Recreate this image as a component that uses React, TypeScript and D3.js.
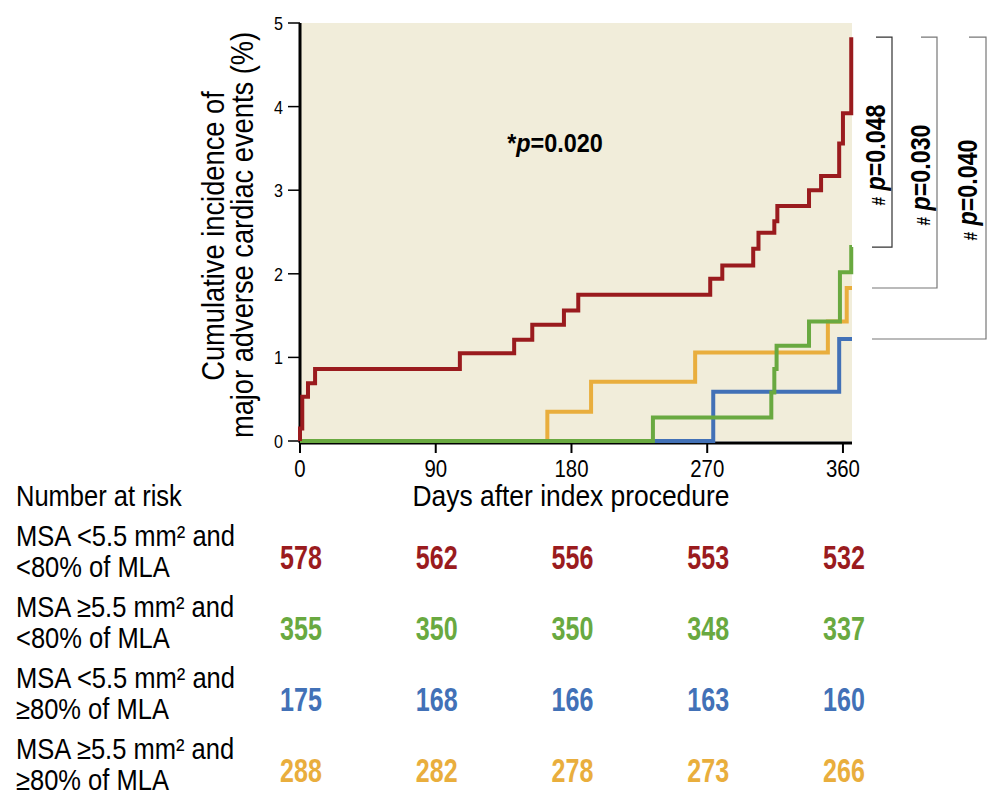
import React from 'react';
import * as d3 from 'd3';

const FONT = "'Liberation Sans', Arial, sans-serif";

// cumulative incidence (%) step curves: day of each step and value after it
const redDays = [0, 0, 1.5, 5.3, 10, 106, 142, 154, 175, 184.5, 272, 280, 300.5, 304, 314.5, 316.5, 337.5, 345.5, 357.5, 360, 365.5];
const redPct = [0, 0.15, 0.53, 0.69, 0.86, 1.05, 1.21, 1.39, 1.56, 1.75, 1.94, 2.1, 2.3, 2.49, 2.63, 2.81, 3.0, 3.17, 3.56, 3.92, 4.83];

const greenDays = [0, 234, 312.5, 314.5, 316, 337.5, 358, 365.5];
const greenPct = [0, 0.28, 0.58, 0.86, 1.14, 1.43, 2.02, 2.32];

const blueDays = [0, 274, 357.5];
const bluePct = [0, 0.59, 1.22];

const orangeDays = [0, 164, 193, 262, 350, 362.5];
const orangePct = [0, 0.35, 0.71, 1.06, 1.43, 1.83];

const xTicks = [0, 90, 180, 270, 360];
const yTicks = [0, 1, 2, 3, 4, 5];

const riskLabels = [
  ['MSA <5.5 mm² and', '<80% of MLA'],
  ['MSA ≥5.5 mm² and', '<80% of MLA'],
  ['MSA <5.5 mm² and', '≥80% of MLA'],
  ['MSA ≥5.5 mm² and', '≥80% of MLA'],
];
const riskRed = [578, 562, 556, 553, 532];
const riskGreen = [355, 350, 350, 348, 337];
const riskBlue = [175, 168, 166, 163, 160];
const riskOrange = [288, 282, 278, 273, 266];

const pOverall = '0.020';
const pPairs = ['0.048', '0.030', '0.040'];

const RED = '#9a1b1e';
const GREEN = '#69a940';
const BLUE = '#4271b7';
const ORANGE = '#e9ae3d';
const BG = '#f1edda';

const END_DAY = 366;

// condensed text: the original uses a narrow face, so squeeze a regular one
const T: React.FC<any> = ({ x, y, sx = 0.88, rot = false, children, ...rest }) => (
  <text transform={`translate(${x},${y})${rot ? ' rotate(-90)' : ''} scale(${sx},1)`} {...rest}>
    {children}
  </text>
);

const App: React.FC = () => {
  const x = d3.scaleLinear().domain([0, END_DAY]).range([300, 852]);
  const y = d3.scaleLinear().domain([0, 5]).range([441, 23]);

  const line = d3.line<[number, number]>()
    .x(d => x(d[0]))
    .y(d => y(d[1]))
    .curve(d3.curveStepAfter);

  const toPts = (days: number[], vals: number[], extend: boolean) => {
    const pts: [number, number][] = days.map((d, i) => [d, vals[i]]);
    if (extend) pts.push([END_DAY, vals[vals.length - 1]]);
    return pts;
  };

  const series = [
    { pts: toPts(orangeDays, orangePct, true), color: ORANGE },
    { pts: toPts(blueDays, bluePct, true), color: BLUE },
    { pts: toPts(greenDays, greenPct, true), color: GREEN },
    { pts: toPts(redDays, redPct, false), color: RED },
  ];

  const risk = [
    { vals: riskRed, color: RED },
    { vals: riskGreen, color: GREEN },
    { vals: riskBlue, color: BLUE },
    { vals: riskOrange, color: ORANGE },
  ];

  // bracket layout: red end vs. green, orange, blue end
  const topY = y(redPct[redPct.length - 1]);
  const bracketEnds = [greenPct, orangePct, bluePct].map(a => y(a[a.length - 1]));
  const bracketX = [892, 937, 986];
  const bracketTopLeft = [876, 921, 969];
  const labelPos = [[885, 155], [930, 175], [977, 190]];

  return (
    <div style={{ position: 'fixed', left: 0, top: 0, width: 1004, height: 791, overflow: 'hidden' }}>
      <svg width={1004} height={791} style={{ display: 'block', background: '#fff' }} fontFamily={FONT}>
        <rect x={x(0)} y={y(5)} width={x(END_DAY) - x(0)} height={y(0) - y(5)} fill={BG} />

        {/* y axis */}
        <line x1={300} x2={300} y1={y(5)} y2={443} stroke="#000" strokeWidth={3} />
        {yTicks.map(t => (
          <g key={t}>
            <line x1={288} x2={300} y1={y(t)} y2={y(t)} stroke="#000" strokeWidth={1.5} />
            <T x={283} y={y(t) + 7} sx={0.85} textAnchor="end" fontSize={19}>{t}</T>
          </g>
        ))}

        {/* x axis */}
        <line x1={299} x2={x(END_DAY)} y1={443} y2={443} stroke="#000" strokeWidth={3} />
        {xTicks.map(t => (
          <g key={t}>
            <line x1={x(t)} x2={x(t)} y1={443} y2={453} stroke="#000" strokeWidth={2} />
            <T x={x(t)} y={477} sx={0.85} textAnchor="middle" fontSize={24}>{t}</T>
          </g>
        ))}

        {series.map((s, i) => (
          <path key={i} d={line(s.pts) || ''} fill="none" stroke={s.color} strokeWidth={4} />
        ))}

        <T x={555} y={152} sx={0.9} textAnchor="middle" fontSize={26} fontWeight="bold">
          <tspan>*</tspan><tspan fontStyle="italic">p</tspan><tspan>={pOverall}</tspan>
        </T>

        {/* pairwise brackets */}
        {pPairs.map((p, i) => (
          <g key={p + i}>
            <path
              d={`M${bracketTopLeft[i]},${topY}H${bracketX[i]}V${bracketEnds[i]}H872`}
              fill="none" stroke={i === 0 ? '#333' : '#777'} strokeWidth={1.2}
            />
            <T x={labelPos[i][0]} y={labelPos[i][1]} rot sx={0.86} textAnchor="middle" fontSize={27} fontWeight="bold">
              <tspan fontSize={18}>#</tspan><tspan> </tspan><tspan fontStyle="italic">p</tspan><tspan>={p}</tspan>
            </T>
          </g>
        ))}

        {/* axis titles */}
        <T x={224} y={236} rot textAnchor="middle" fontSize={31}>Cumulative incidence of</T>
        <T x={253} y={235} rot textAnchor="middle" fontSize={31}>major adverse cardiac events (%)</T>
        <T x={571} y={506} textAnchor="middle" fontSize={30}>Days after index procedure</T>

        {/* number at risk */}
        <T x={16} y={506} fontSize={29}>Number at risk</T>
        {riskLabels.map((lab, i) => (
          <g key={i}>
            <T x={16} y={546 + i * 71} fontSize={29}>{lab[0]}</T>
            <T x={16} y={577 + i * 71} fontSize={29}>{lab[1]}</T>
            {risk[i].vals.map((v, j) => (
              <T key={j} x={x(xTicks[j]) + 1} y={569 + i * 71} sx={0.76} textAnchor="middle"
                fontSize={33} fontWeight="bold" fill={risk[i].color}>{v}</T>
            ))}
          </g>
        ))}
      </svg>
    </div>
  );
};

export default App;
